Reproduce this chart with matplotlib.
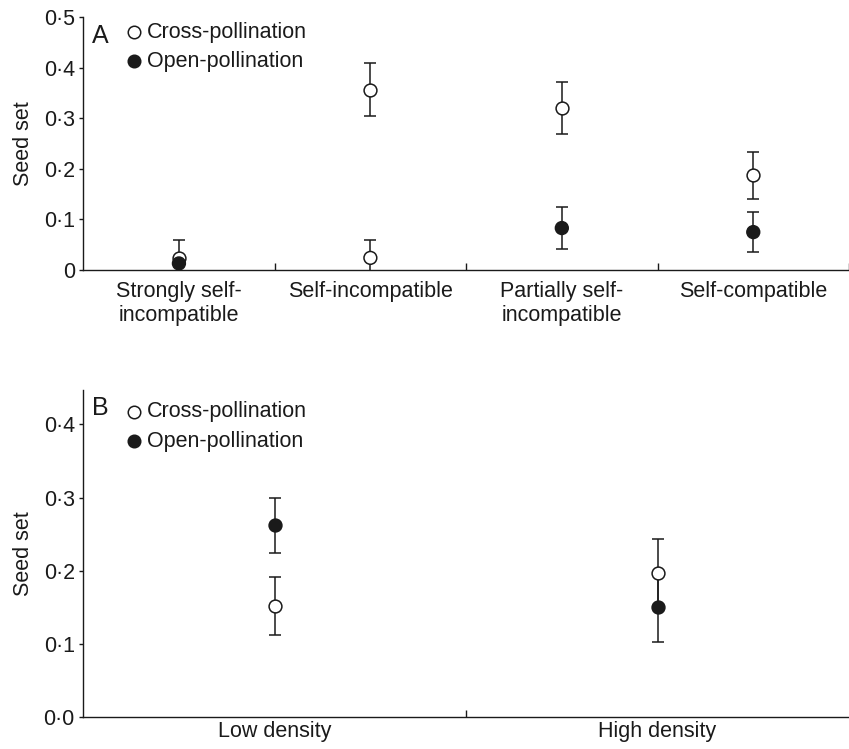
import matplotlib.pyplot as plt
import numpy as np

plt.rcParams['font.family'] = ['Liberation Sans', 'DejaVu Sans']

# panel A data
cats_a = ['Strongly self-\nincompatible', 'Self-incompatible',
          'Partially self-\nincompatible', 'Self-compatible']
cross_a = [0.024, 0.357, 0.320, 0.187]
cross_a_err = [0.035, 0.053, 0.051, 0.047]
open_a = [0.013, 0.024, 0.083, 0.075]
open_a_err = [0.0, 0.035, 0.042, 0.040]
open_a_filled = [True, False, True, True]

# panel B data
cats_b = ['Low density', 'High density']
cross_b = [0.152, 0.197]
cross_b_err = [0.040, 0.046]
open_b = [0.262, 0.150]
open_b_err = [0.038, 0.047]

ink = '#1a1a1a'
fs = 15.5


def style_axes(ax, ncat, xpad):
    for s in ['top', 'right']:
        ax.spines[s].set_visible(False)
    for s in ['left', 'bottom']:
        ax.spines[s].set_color(ink)
        ax.spines[s].set_linewidth(1.0)
    ax.set_xlim(0, ncat)
    ax.tick_params(axis='x', which='major', length=0, labelsize=fs, pad=xpad, colors=ink)
    ax.tick_params(axis='x', which='minor', direction='in', length=5, width=1, color=ink)
    ax.tick_params(axis='y', direction='out', length=3, width=1, labelsize=fs,
                   colors=ink, pad=3)
    ax.set_ylabel('Seed set', fontsize=fs, color=ink, labelpad=7)


def draw_series(ax, x, y, err, facecolors):
    ax.errorbar(x, y, yerr=err, fmt='none', ecolor=ink, elinewidth=1.1,
                capsize=4, capthick=1.1, zorder=2)
    ax.scatter(x, y, s=85, facecolors=facecolors, edgecolors=ink,
               linewidths=1.1, zorder=3)


def legend(ax, label, y1, y2, ylab):
    ax.text(0.012, ylab, label, transform=ax.transAxes, fontsize=18,
            ha='left', va='center', color=ink)
    ax.plot([0.066], [y1], 'o', transform=ax.transAxes, ms=9,
            mfc='white', mec=ink, mew=1.1)
    ax.text(0.083, y1, 'Cross-pollination', transform=ax.transAxes,
            fontsize=fs, va='center', color=ink)
    ax.plot([0.066], [y2], 'o', transform=ax.transAxes, ms=9,
            mfc=ink, mec=ink, mew=1.1)
    ax.text(0.083, y2, 'Open-pollination', transform=ax.transAxes,
            fontsize=fs, va='center', color=ink)


fig = plt.figure(figsize=(8.49, 7.49), dpi=100)

# panel A
ax1 = fig.add_axes([0.098, 0.6395, 0.902, 0.3375])
xa = np.arange(len(cats_a)) + 0.5
draw_series(ax1, xa, cross_a, cross_a_err, 'white')
draw_series(ax1, xa, open_a, open_a_err,
            [ink if f else 'white' for f in open_a_filled])
style_axes(ax1, len(cats_a), 8)
ax1.set_xticks(xa)
ax1.set_xticklabels(cats_a, linespacing=1.15)
ax1.set_xticks(np.arange(1, len(cats_a) + 1), minor=True)
ax1.set_ylim(0, 0.5)
ax1.set_yticks([0, 0.1, 0.2, 0.3, 0.4, 0.5])
ax1.set_yticklabels(['0', '0·1', '0·2', '0·3', '0·4', '0·5'])
legend(ax1, 'A', 0.94, 0.826, 0.925)

# panel B
ax2 = fig.add_axes([0.098, 0.0423, 0.902, 0.437])
xb = np.arange(len(cats_b)) + 0.5
draw_series(ax2, xb, cross_b, cross_b_err, 'white')
draw_series(ax2, xb, open_b, open_b_err, ink)
style_axes(ax2, len(cats_b), 3)
ax2.set_xticks(xb)
ax2.set_xticklabels(cats_b)
ax2.set_xticks([1], minor=True)
ax2.set_ylim(0, 0.447)
ax2.set_yticks([0, 0.1, 0.2, 0.3, 0.4])
ax2.set_yticklabels(['0·0', '0·1', '0·2', '0·3', '0·4'])
legend(ax2, 'B', 0.933, 0.844, 0.945)

fig.savefig('out.png', dpi=100)
